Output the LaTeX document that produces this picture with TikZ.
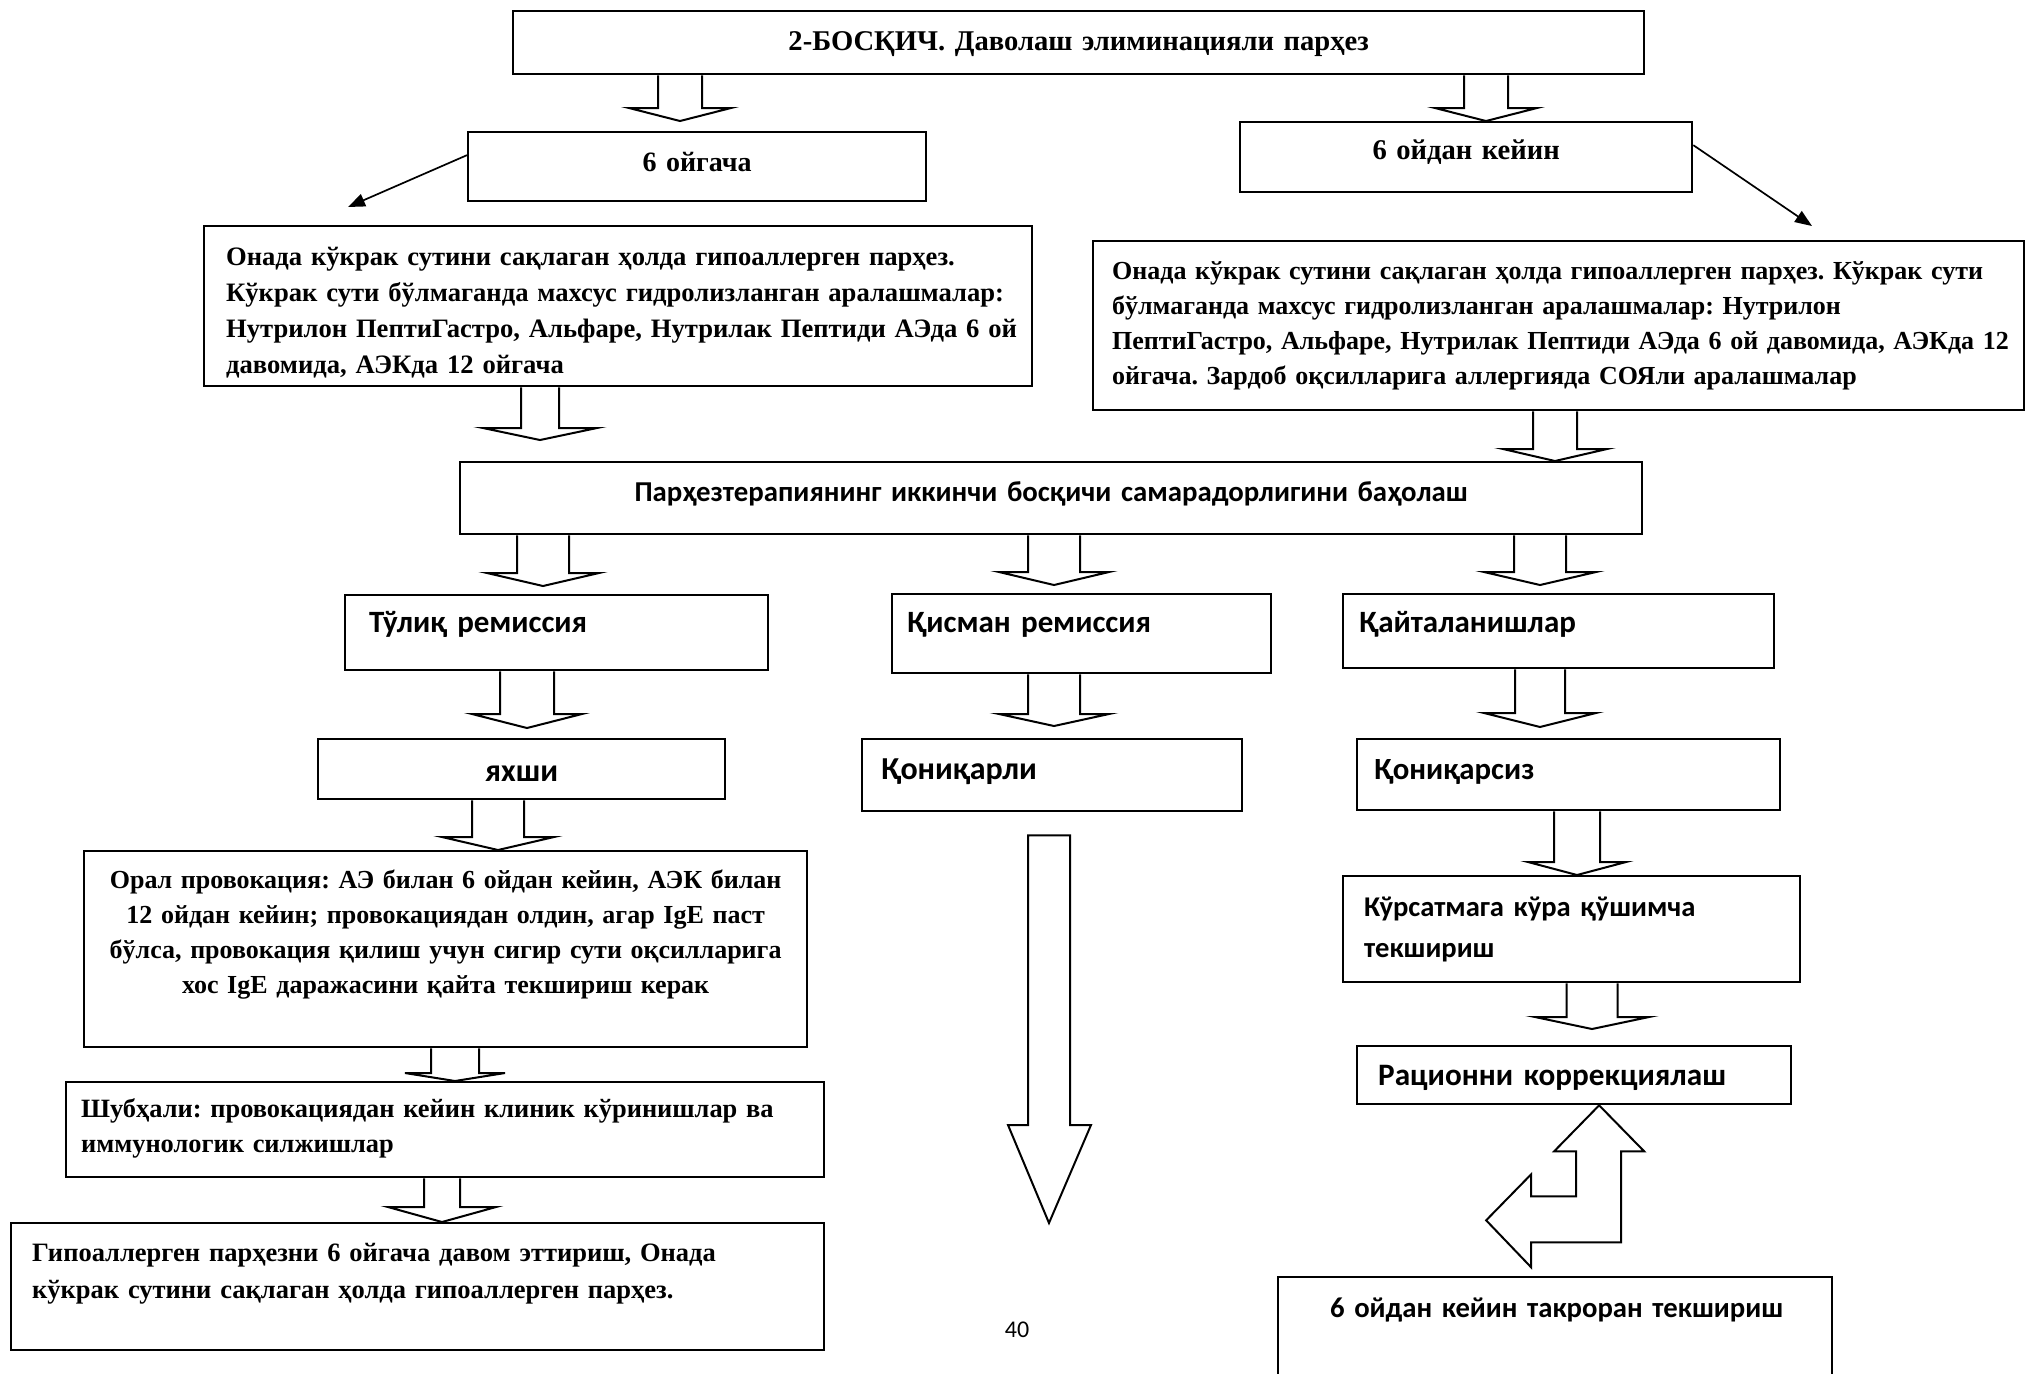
\documentclass[tikz,border=0pt]{standalone}
\usepackage{fontspec}
\setmainfont{Liberation Serif}
\newfontfamily\calibri{Carlito}
\usetikzlibrary{arrows.meta,calc}
\frenchspacing

\tikzset{
    serif-box/.style = {draw, line width=1.15pt, rectangle, anchor=north west, inner ysep=0pt, font=\fontsize{#1}{17.5}\selectfont\bfseries},
    serif-box/.default = 13.5,
    sans-box/.style = {draw, line width=1.15pt, rectangle, anchor=north west, inner ysep=0pt, font=\calibri\fontsize{#1}{20.5}\selectfont\bfseries},
    sans-box/.default = 15,
    fat-arrow/.style = {draw, line width=1pt, line join=miter},
    thin-arrow/.style = {line width=0.85pt, -{Triangle[length=8.5pt,width=6.5pt]}},
}

% block arrow: x (px), from, to, half shaft, half head, head length (px)
\newcommand{\fatarrow}[6]{%
  \draw[fat-arrow] let \p1=(#2), \p2=(#3) in
    ({(#1-#4)*0.5pt},\y1) -- ({(#1-#4)*0.5pt},{\y2+#6*0.5pt}) -- ({(#1-#5)*0.5pt},{\y2+#6*0.5pt})
    -- ({#1*0.5pt},\y2) -- ({(#1+#5)*0.5pt},{\y2+#6*0.5pt}) -- ({(#1+#4)*0.5pt},{\y2+#6*0.5pt})
    -- ({(#1+#4)*0.5pt},\y1);}

\begin{document}
\begin{tikzpicture}[x=0.5pt, y=-0.5pt]
\useasboundingbox (0,0) rectangle (2026,1373);
\clip (0,0) rectangle (2026,1373);

% top part
\node[serif-box=14.3, text width=555.5pt, inner xsep=5pt, text height=19.5pt, text depth=12pt, align=center] (stage) at (512,10) {2-БОСҚИЧ. Даволаш элиминацияли парҳез};
\node[serif-box=14, text width=219pt, inner xsep=5pt, text height=19.5pt, text depth=15pt, align=center] (upto-six) at (467,131) {6 ойгача};
\node[serif-box=14.3, text width=216pt, inner xsep=5pt, text height=18.5pt, text depth=16.5pt, align=center] (after-six) at (1239,121) {6 ойдан кейин};
\node[serif-box, text width=392pt, inner xsep=11pt, text height=19.5pt, text depth=60.5pt, align=left, font=\fontsize{13.3}{18}\selectfont\bfseries] (left-diet) at (203,225) {\mbox{Онада кўкрак сутини сақлаган ҳолда гипоаллерген парҳез.}\\ \mbox{Кўкрак сути бўлмаганда махсус гидролизланган аралашмалар:}\\ \mbox{Нутрилон ПептиГастро, Альфаре, Нутрилак Пептиди АЭда 6 ой}\\ \mbox{давомида, АЭКда 12 ойгача}};
\node[serif-box=13, text width=446.5pt, inner xsep=9.5pt, text height=19pt, text depth=65.5pt, align=left] (right-diet) at (1092,240) {\mbox{Онада кўкрак сутини сақлаган ҳолда гипоаллерген парҳез. Кўкрак сути}\\ \mbox{бўлмаганда махсус гидролизланган аралашмалар: Нутрилон}\\ \mbox{ПептиГастро, Альфаре, Нутрилак Пептиди АЭда 6 ой давомида, АЭКда 12}\\ \mbox{ойгача. Зардоб оқсилларига аллергияда СОЯли аралашмалар}};

% evaluation and outcomes
\node[sans-box=14.4, text width=581pt, inner xsep=5pt, text height=19.5pt, text depth=16.5pt, align=center] (evaluation) at (459,461) {Парҳезтерапиянинг иккинчи босқичи самарадорлигини баҳолаш};
\node[sans-box=15.5, text width=187.5pt, inner xsep=12pt, text height=18.5pt, text depth=19pt, align=left] (full-rem) at (344,594) {Тўлиқ ремиссия};
\node[sans-box=15.5, text width=174.5pt, inner xsep=7.5pt, text height=19pt, text depth=20.5pt, align=left] (part-rem) at (891,593) {Қисман ремиссия};
\node[sans-box=15.5, text width=199.5pt, inner xsep=8pt, text height=19pt, text depth=18pt, align=left] (relapse) at (1342,593) {Қайталанишлар};
\node[sans-box=16, text width=193.5pt, inner xsep=5pt, text height=21pt, text depth=9pt, align=center] (good) at (317,738) {яхши};
\node[sans-box=16, text width=171pt, inner xsep=9.5pt, text height=20pt, text depth=16pt, align=left] (satisf) at (861,738) {Қониқарли};
\node[sans-box=15.4, text width=194.5pt, inner xsep=8.5pt, text height=20pt, text depth=15.5pt, align=left] (unsatisf) at (1356,738) {Қониқарсиз};

% left column
\node[serif-box=13, text width=355.5pt, inner xsep=3pt, text height=18.5pt, text depth=79.5pt, align=center] (oral-prov) at (83,850) {Орал провокация: АЭ билан 6 ойдан кейин, АЭК билан\\ 12 ойдан кейин; провокациядан олдин, агар IgE паст\\ бўлса, провокация қилиш учун сигир сути оқсилларига\\ хос IgE даражасини қайта текшириш керак};
\node[serif-box=13.2, text width=364pt, inner xsep=7.5pt, text height=17.5pt, text depth=30pt, align=left] (doubtful) at (65,1081) {Шубҳали: провокациядан кейин клиник кўринишлар ва\\ иммунологик силжишлар};
\node[serif-box, text width=385.5pt, inner xsep=10.5pt, text height=19pt, text depth=44.5pt, align=left, font=\fontsize{13.25}{18.5}\selectfont\bfseries] (hypo-diet) at (10,1222) {Гипоаллерген парҳезни 6 ойгача давом эттириш, Онада\\ кўкрак сутини сақлаган ҳолда гипоаллерген парҳез.};

% right column
\node[sans-box=14.3, text width=207.5pt, inner xsep=10.5pt, text height=20pt, text depth=33pt, align=left] (extra-exam) at (1342,875) {Кўрсатмага кўра қўшимча\\ текшириш};
\node[sans-box=15.6, text width=196pt, inner xsep=10.5pt, text height=19.5pt, text depth=9.5pt, align=left] (ration) at (1356,1045) {Рационни коррекциялаш};
\node[sans-box=14.35, text width=237pt, inner xsep=20pt, text height=20pt, text depth=42pt, align=left] (repeat-exam) at (1277,1276) {\hspace*{6pt}6 ойдан кейин такроран текшириш};

\node[font=\calibri\fontsize{12}{14}\selectfont] (page-no) at (1017,1330) {40};

% block arrows
\fatarrow{680}{stage.south}{[yshift=5pt]upto-six.north}{22}{51}{13}
\fatarrow{1486}{stage.south}{after-six.north}{22}{51}{13}
\fatarrow{540}{left-diet.south}{[yshift=10.5pt]evaluation.north}{19}{57}{12}
\fatarrow{1555}{right-diet.south}{evaluation.north}{22}{52}{12}
\fatarrow{543}{evaluation.south}{[yshift=4pt]full-rem.north}{26}{56}{13}
\fatarrow{1054}{evaluation.south}{[yshift=4pt]part-rem.north}{26}{55}{13}
\fatarrow{1540}{evaluation.south}{[yshift=4pt]relapse.north}{26}{56}{13}
\fatarrow{527}{full-rem.south}{[yshift=5pt]good.north}{27}{55}{14}
\fatarrow{1054}{part-rem.south}{[yshift=6pt]satisf.north}{26}{55}{12}
\fatarrow{1540}{relapse.south}{[yshift=5.5pt]unsatisf.north}{25}{56}{14}
\fatarrow{498}{good.south}{oral-prov.north}{26}{56}{13}
\fatarrow{455}{oral-prov.south}{doubtful.north}{24}{50}{8}
\fatarrow{442}{doubtful.south}{hypo-diet.north}{18}{54}{15}
\fatarrow{1577}{unsatisf.south}{extra-exam.north}{23}{49}{13}
\fatarrow{1592}{extra-exam.south}{[yshift=8pt]ration.north}{25.5}{57}{12}

% long arrow under the satisfactory box
\coordinate (satisf-end) at (1049,1223);
\draw[fat-arrow] let \p1=([yshift=-11.5pt]satisf.south), \p2=(satisf-end) in
    ({1028*0.5pt},\y1) -- ({1028*0.5pt},{\y2+49pt}) -- ({1008*0.5pt},{\y2+49pt}) -- (\x2,\y2)
    -- ({1091*0.5pt},{\y2+49pt}) -- ({1070*0.5pt},{\y2+49pt}) -- ({1070*0.5pt},\y1) -- cycle;

% bent double arrow
\draw[fat-arrow] ([xshift=12.5pt]ration.south) -- ++(22.5pt,-23pt) -- ++(-11.5pt,0) -- ++(0,-45.5pt)
    -- ++(-45pt,0) -- ++(0,-12.5pt) -- ++(-22.5pt,23.5pt) -- ++(22.5pt,23pt) -- ++(0,-11pt)
    -- ++(22.5pt,0) -- ++(0,22.5pt) -- ++(-11pt,0) -- cycle;

% thin arrows
\coordinate (left-tip) at (348,207);
\coordinate (right-tip) at (1812,226);
\draw[thin-arrow] ([yshift=5.75pt]upto-six.west) -- (left-tip);
\draw[thin-arrow] ([yshift=6pt]after-six.east) -- (right-tip);
\end{tikzpicture}
\end{document}
